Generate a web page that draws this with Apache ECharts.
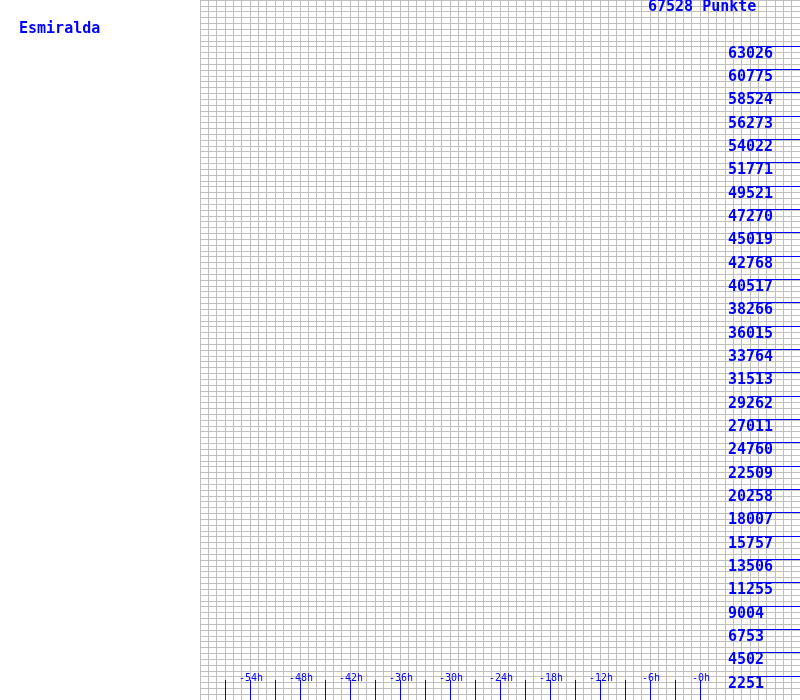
<!DOCTYPE html>
<html>
<head>
<meta charset="utf-8">
<script src="https://cdn.jsdelivr.net/npm/echarts@6/dist/echarts.min.js"></script>
<style>
html,body{margin:0;padding:0;background:#fff;}
#c{width:800px;height:700px;}
</style>
</head>
<body>
<div id="c"></div>
<script>
// ---- data ----
const playerName = 'Esmiralda';
const totalPoints = 67528;
const totalLabel = '67528 Punkte';
const scoreValues = [2251, 4502, 6753, 9004, 11255, 13506, 15757, 18007, 20258, 22509, 24760, 27011, 29262, 31513, 33764, 36015, 38266, 40517, 42768, 45019, 47270, 49521, 51771, 54022, 56273, 58524, 60775, 63026];
const hourTicks = [-57, -54, -51, -48, -45, -42, -39, -36, -33, -30, -27, -24, -21, -18, -15, -12, -9, -6, -3, 0];
const hourLabelValues = [-54, -48, -42, -36, -30, -24, -18, -12, -6, 0];
const hourLabels = ['-54h', '-48h', '-42h', '-36h', '-30h', '-24h', '-18h', '-12h', '-6h', '-0h'];
const hourMin = -60, hourMax = 12;

const BLUE = '#0000ff';
const GRID = '#c0c0c0';
const bigFont = 'bold 15px "DejaVu Sans Mono", "Liberation Mono", monospace';
const smallFont = '10px "DejaVu Sans Mono", "Liberation Mono", monospace';

const chart = echarts.init(document.getElementById('c'), null, {renderer: 'canvas'});

const option = {
  animation: false,
  backgroundColor: '#ffffff',
  grid: {left: 200, right: 0, top: 0, bottom: 0, containLabel: false},
  xAxis: {
    type: 'value', min: hourMin, max: hourMax, interval: 1,
    axisLine: {show: false}, axisTick: {show: false}, axisLabel: {show: false},
    splitLine: {show: true, lineStyle: {color: GRID, width: 1}}
  },
  yAxis: {
    type: 'value', min: 0, max: totalPoints, interval: totalPoints / 120,
    axisLine: {show: false}, axisTick: {show: false}, axisLabel: {show: false},
    splitLine: {show: true, lineStyle: {color: GRID, width: 1}}
  },
  graphic: [
    {type: 'text', left: 19, top: 22, style: {text: playerName, font: bigFont, fill: BLUE}},
  ],
  series: [
    {
      type: 'custom',
      silent: true,
      z: 10,
      data: scoreValues.map(v => [hourMax, v]),
      renderItem: function (params, api) {
        const v = api.value(1);
        const end = api.coord([hourMax, v]);
        const start = api.coord([6, v]);
        const y = Math.round(end[1]) - 1;
        return {
          type: 'group',
          children: [
            {type: 'rect', shape: {x: start[0], y: y, width: end[0] - start[0], height: 1}, style: {fill: BLUE, stroke: null}},
            {type: 'text', style: {text: String(v), x: start[0] - 22, y: y + 8.5, font: bigFont, fill: BLUE, align: 'left', verticalAlign: 'middle'}}
          ]
        };
      }
    },
    {
      type: 'custom',
      silent: true,
      z: 10,
      data: [[0, totalPoints]],
      renderItem: function (params, api) {
        const p = api.coord([0, api.value(1)]);
        return {type: 'text', style: {text: totalLabel, x: p[0] - 52, y: p[1] + 7, font: bigFont, fill: BLUE, align: 'left', verticalAlign: 'middle'}};
      }
    },
    {
      type: 'custom',
      silent: true,
      z: 10,
      data: hourTicks.map(h => [h, 0]),
      renderItem: function (params, api) {
        const p = api.coord([api.value(0), 0]);
        return {type: 'rect', shape: {x: Math.round(p[0]), y: p[1] - 20, width: 1, height: 20}, style: {fill: BLUE, stroke: null}};
      }
    },
    {
      type: 'custom',
      silent: true,
      z: 10,
      data: hourLabelValues.map((h, i) => [h, 0, i]),
      renderItem: function (params, api) {
        const p = api.coord([api.value(0), 0]);
        return {type: 'text', style: {text: hourLabels[api.value(2)], x: Math.round(p[0]) + 1, y: p[1] - 22, font: smallFont, fill: BLUE, align: 'center', verticalAlign: 'middle'}};
      }
    }
  ]
};
chart.setOption(option);
</script>
</body>
</html>
